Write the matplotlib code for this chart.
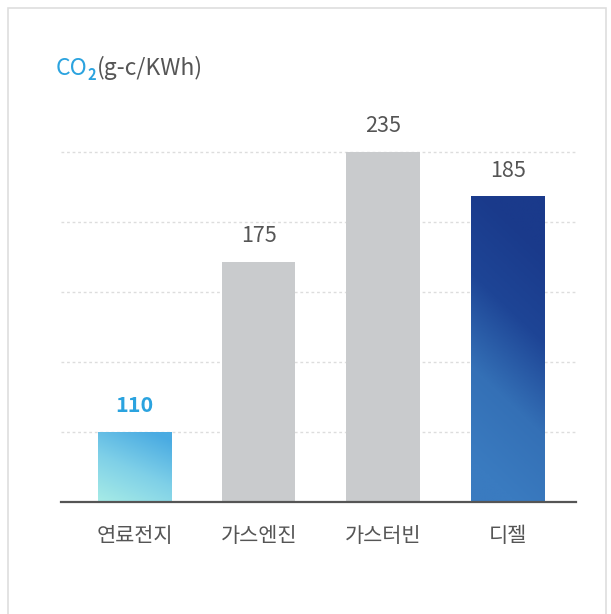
import matplotlib.pyplot as plt
import numpy as np
from matplotlib.colors import LinearSegmentedColormap
from matplotlib.patches import Rectangle

plt.rcParams['font.family'] = ['Noto Sans CJK KR', 'DejaVu Sans']

categories = ['연료전지', '가스엔진', '가스터빈', '디젤']
values = [110, 175, 235, 185]
# bar heights as drawn in the source picture, in gridline steps
# (the original is illustrative, bars are not to scale with values)
bar_heights = [1.0, 3.42, 5.0, 4.36]
grid_levels = [1, 2, 3, 4, 5]

CYAN = '#2ba3df'
TEXT = '#555555'

fig = plt.figure(figsize=(6.11, 6.14), dpi=100)

# light frame around the whole card
fig.patches.append(Rectangle((8 / 611, -0.05), 598 / 611, 1.05 - 8 / 614,
                             transform=fig.transFigure, fill=False,
                             edgecolor='#dedede', linewidth=1.2))

ax = fig.add_axes([61 / 611, 112.5 / 614, 515 / 611, 371.5 / 614])
ax.set_xlim(-0.59, 3.55)
ax.set_ylim(0, 371.5 / 70)

x = np.arange(len(categories))
bars = ax.bar(x, bar_heights, width=0.59,
              color=['#7ccde8', '#c9cbcd', '#c9cbcd', '#2b5aa8'], zorder=2)

# gradient fills for the first and last bar
gy, gx = np.mgrid[0:1:200j, 0:1:60j]
grads = {
    0: (LinearSegmentedColormap.from_list('fc', ['#a6ebe6', '#7fd0e8', '#4aabe2']),
        np.clip(0.35 * gx + 0.75 * gy, 0, 1)),
    3: (LinearSegmentedColormap.from_list('ds', ['#3a7bc0', '#3470b6', '#1e4596', '#1a3a8b']),
        np.clip(0.25 * gx + 1.1 * gy - 0.15, 0, 1)),
}
for i, (cmap, g) in grads.items():
    b = bars[i]
    x0, w, h = b.get_x(), b.get_width(), b.get_height()
    im = ax.imshow(g, cmap=cmap, origin='lower', aspect='auto',
                   extent=(x0, x0 + w, 0, h), zorder=3, vmin=0, vmax=1)
    im.set_clip_path(b)

ax.hlines(grid_levels, -0.59, 3.55, colors='#dddddd', linewidth=1,
          linestyles=(0, (2, 2)), zorder=1)
ax.axhline(0, color='#555555', linewidth=1.6, zorder=4, clip_on=False)

for i, (h, v) in enumerate(zip(bar_heights, values)):
    ax.annotate(str(v), xy=(i, h), xytext=(0, 18.5), textcoords='offset points',
                ha='center', va='center', fontsize=15.5,
                color=CYAN if i == 0 else TEXT,
                fontweight='bold' if i == 0 else 'medium')

ax.set_xticks(x)
ax.set_xticklabels(categories, fontsize=15, color=TEXT)
ax.tick_params(axis='x', length=0, pad=17)
ax.set_yticks([])
for s in ax.spines.values():
    s.set_visible(False)

# title: CO + subscript 2 in cyan, unit in grey
base_y = 1 - 75 / 614
t1 = fig.text(56 / 611, base_y, 'CO', color=CYAN, fontsize=16.5,
              va='baseline', ha='left')
fig.canvas.draw()
bb1 = t1.get_window_extent()
t2 = fig.text(bb1.x1 / 611, base_y - 5 / 614, '2', color=CYAN, fontsize=10.5,
              va='baseline', ha='left', fontweight='bold')
fig.canvas.draw()
bb2 = t2.get_window_extent()
fig.text(bb2.x1 / 611, base_y, '(g-c/KWh)', color=TEXT, fontsize=16.5,
         va='baseline', ha='left')

fig.savefig('out.png', dpi=100, facecolor='white')
